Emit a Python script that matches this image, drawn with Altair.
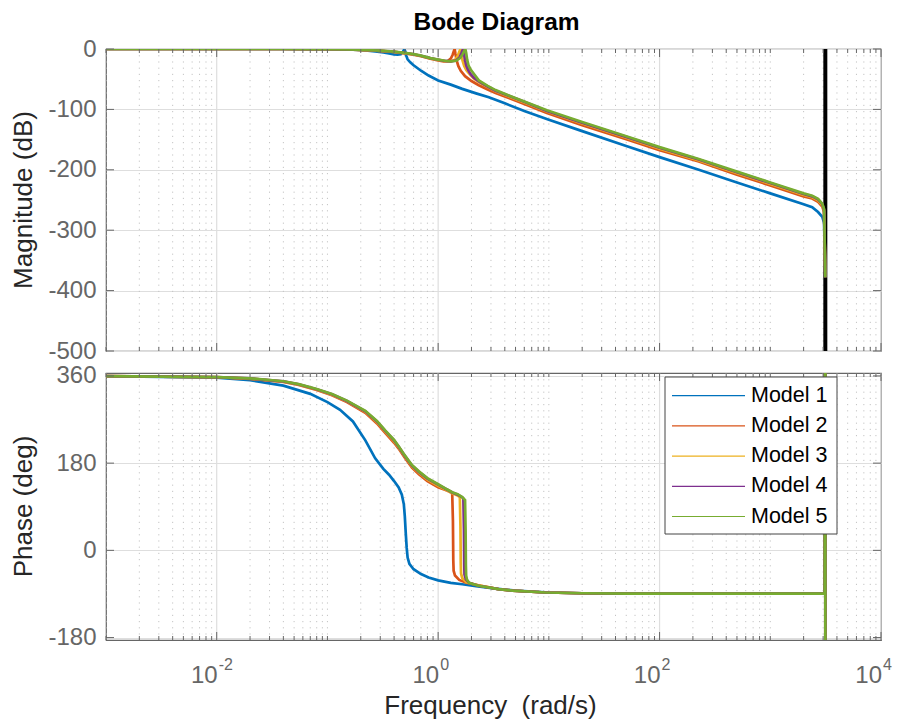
import altair as alt
import pandas as pd

model_names = ["Model 1", "Model 2", "Model 3", "Model 4", "Model 5"]
model_colors = ["#0072BD", "#D95319", "#EDB120", "#7E2F8E", "#77AC30"]

# ---------------- magnitude (dB) ----------------
m1_mag_freq = [0.001, 0.01, 0.04, 0.07, 0.1, 0.13, 0.17, 0.22, 0.27, 0.32, 0.36, 0.4, 0.43, 0.46, 0.48,
               0.495, 0.505, 0.515, 0.53, 0.56, 0.6, 0.7, 0.82, 1.0, 1.3, 1.65, 2.2, 2.87, 4, 6,
               10, 20, 50, 100, 226, 500, 1000, 2000, 2390, 2700, 2950, 3060, 3141.59]
m1_mag = [0, 0, 0, -0.1, -0.3, -0.6, -1.2, -2.3, -3.8, -5.6, -7.2, -8.8, -9.4, -8.5, -5,
          -0.5, -4, -11, -17, -22, -27, -36, -44, -52, -59, -66, -73.5, -80, -90, -102.5,
          -117, -136, -160.5, -179, -200, -221, -239, -257, -262, -270, -278, -288, -378]

m2_mag_freq = [0.001, 0.01, 0.04, 0.07, 0.1, 0.15, 0.22, 0.3, 0.4, 0.5, 0.6, 0.7, 0.85, 1.0, 1.12,
               1.22, 1.3, 1.35, 1.39, 1.41, 1.43, 1.47, 1.52, 1.6, 1.75, 2.0, 2.33, 2.8, 3.3, 4.35,
               6, 9.6, 20, 50, 100, 226, 500, 1000, 2000, 2390, 2700, 2950, 3060, 3141.59]
m2_mag = [0, 0, 0, -0.1, -0.3, -0.8, -1.8, -3.2, -5, -7.2, -9.5, -12, -16, -19, -20.5,
          -20, -16, -10, -3, 0, -7, -19, -28, -36, -45, -53, -60, -67, -73, -81,
          -91, -106, -126, -149.5, -167.5, -186.3, -208, -226, -244, -247.5, -253, -261, -270, -378]

m3_mag_freq = [0.001, 0.01, 0.04, 0.07, 0.1, 0.15, 0.22, 0.3, 0.4, 0.5, 0.6, 0.7, 0.85, 1.0, 1.15,
               1.3, 1.42, 1.5, 1.55, 1.59, 1.62, 1.66, 1.72, 1.8, 1.95, 2.1, 2.33, 2.8, 3.3, 4.35,
               6, 9.6, 20, 50, 100, 226, 500, 1000, 2000, 2390, 2700, 2950, 3060, 3141.59]
m3_mag = [0, 0, 0, -0.1, -0.3, -0.7, -1.7, -3, -4.8, -6.8, -9, -11.5, -15.5, -18, -20,
          -20.5, -18, -12, -5, 0, -7, -19, -28, -35, -43, -49, -55, -63, -70, -78.5,
          -88.5, -103.5, -123.5, -147, -165, -184.5, -205.5, -223.5, -241.5, -245.5, -250.5, -258.5, -267.5, -378]

m4_mag_freq = [0.001, 0.01, 0.04, 0.07, 0.1, 0.15, 0.22, 0.3, 0.4, 0.5, 0.6, 0.7, 0.85, 1.0, 1.15,
               1.3, 1.45, 1.56, 1.63, 1.68, 1.71, 1.75, 1.8, 1.86, 1.95, 2.1, 2.33, 2.8, 3.3, 4.35,
               6, 9.6, 20, 50, 100, 226, 500, 1000, 2000, 2390, 2700, 2950, 3060, 3141.59]
m4_mag = [0, 0, 0, -0.1, -0.3, -0.7, -1.6, -2.9, -4.6, -6.6, -8.7, -11.2, -15.2, -17.8, -19.8,
          -20.5, -19, -14, -6, 0, -7, -19, -28, -34, -41, -47.5, -53.5, -62, -69, -77.5,
          -87.5, -102.5, -122, -145.5, -163.5, -183, -204, -222, -240, -244, -249, -257, -266, -378]

m5_mag_freq = [0.001, 0.01, 0.04, 0.07, 0.1, 0.15, 0.22, 0.3, 0.4, 0.5, 0.6, 0.7, 0.85, 1.0, 1.15,
               1.3, 1.45, 1.58, 1.66, 1.72, 1.76, 1.79, 1.83, 1.88, 1.95, 2.1, 2.33, 2.8, 3.3, 4.35,
               6, 9.6, 20, 50, 100, 226, 500, 1000, 2000, 2390, 2700, 2950, 3060, 3141.59]
m5_mag = [0, 0, 0, -0.1, -0.3, -0.7, -1.6, -2.8, -4.5, -6.5, -8.5, -11, -15, -17.5, -19.5,
          -20.5, -19.5, -15, -9, -3, 0, -6, -18, -27, -33, -41, -52, -61, -68, -77,
          -87, -101.5, -121, -144.5, -162.5, -182, -203, -221, -239, -243, -248, -256, -265, -378]

# ---------------- phase (deg) ----------------
m1_ph_freq = [0.001, 0.01, 0.02, 0.04, 0.07, 0.1, 0.13, 0.17, 0.22, 0.27, 0.32, 0.36, 0.4, 0.44, 0.47,
              0.49, 0.5, 0.51, 0.52, 0.53, 0.55, 0.6, 0.7, 0.82, 1.0, 1.3, 1.65, 2.2, 3.3, 5,
              10, 20, 50, 200, 3100, 3141.59, 3141.59]
m1_phase = [359.3, 356.5, 351, 340, 323, 306, 290, 266, 227, 190, 168, 156, 143, 130, 115,
            95, 70, 35, 5, -15, -28, -39, -49, -56, -62, -67, -70, -74, -79, -83,
            -87, -88.5, -89.2, -89.5, -89.5, 900, -900]

m2_ph_freq = [0.001, 0.01, 0.02, 0.04, 0.055, 0.08, 0.11, 0.15, 0.22, 0.28, 0.334, 0.4, 0.44, 0.5, 0.58,
              0.67, 0.8, 1.0, 1.15, 1.28, 1.34, 1.36, 1.37, 1.38, 1.42, 1.55, 1.8, 2.3, 3.5, 4.7,
              9.3, 20, 50, 200, 3100, 3141.59, 3141.59]
m2_phase = [359.5, 357.2, 354, 347.5, 341.5, 331, 320, 306, 284, 262, 242, 222, 210, 191, 171,
            157, 143, 130, 125, 121, 117, 60, -20, -42, -52, -61, -67, -72, -80, -83,
            -87, -88.5, -89.2, -89.5, -89.5, 900, -900]

m3_ph_freq = [0.001, 0.01, 0.02, 0.04, 0.055, 0.08, 0.11, 0.15, 0.22, 0.28, 0.334, 0.4, 0.44, 0.5, 0.58,
              0.67, 0.8, 1.0, 1.2, 1.34, 1.5, 1.57, 1.59, 1.6, 1.61, 1.65, 1.8, 2.3, 3.5, 4.7,
              9.3, 20, 50, 200, 3100, 3141.59, 3141.59]
m3_phase = [359.5, 357.4, 354.5, 348.3, 342.3, 332, 321.3, 307.5, 286, 264.5, 244.5, 225, 212.5, 193.5, 173.5,
            160, 146, 133, 124, 118, 113, 110, 50, -25, -48, -57, -66, -72, -80, -83,
            -87, -88.5, -89.2, -89.5, -89.5, 900, -900]

m4_ph_freq = [0.001, 0.01, 0.02, 0.04, 0.055, 0.08, 0.11, 0.15, 0.22, 0.28, 0.334, 0.4, 0.44, 0.5, 0.58,
              0.67, 0.8, 1.0, 1.2, 1.34, 1.5, 1.65, 1.69, 1.71, 1.72, 1.73, 1.78, 1.9, 2.3, 3.5,
              4.7, 9.3, 20, 50, 200, 3100, 3141.59, 3141.59]
m4_phase = [359.6, 357.5, 354.8, 348.7, 342.7, 332.5, 322, 308.3, 287, 266, 246, 227, 214, 195, 175,
            162, 148, 135.5, 125.5, 119.5, 115, 109.5, 107, 45, -28, -50, -60, -67, -73, -80,
            -83, -87, -88.5, -89.2, -89.5, -89.5, 900, -900]

m5_ph_freq = [0.001, 0.01, 0.02, 0.04, 0.055, 0.08, 0.11, 0.15, 0.22, 0.28, 0.334, 0.4, 0.44, 0.5, 0.58,
              0.67, 0.8, 1.0, 1.2, 1.34, 1.5, 1.65, 1.75, 1.77, 1.78, 1.79, 1.82, 1.9, 2.3, 3.5,
              4.7, 9.3, 20, 50, 200, 3100, 3141.59, 3141.59]
m5_phase = [359.6, 357.5, 355, 349, 343, 333, 322.6, 309, 288, 267, 247, 228, 215, 196, 176,
            163, 149, 136.5, 126, 120, 116, 110, 104, 40, -30, -52, -60, -67, -73, -80,
            -83, -87, -88.5, -89.2, -89.5, -89.5, 900, -900]

nyquist_freq = [3141.59]
mag_tick_values = [0, -100, -200, -300, -400, -500]
phase_tick_values = [360, 180, 0, -180]
label_freqs = [1e-2, 1e0, 1e2, 1e4]
label_exponents = ["-2", "0", "2", "4"]
decade_exponents = [-3, -2, -1, 0, 1, 2, 3]
minor_multipliers = [1, 2, 3, 4, 5, 6, 7, 8, 9]

# ---------------- tables ----------------
mag_sets = [(m1_mag_freq, m1_mag), (m2_mag_freq, m2_mag), (m3_mag_freq, m3_mag),
            (m4_mag_freq, m4_mag), (m5_mag_freq, m5_mag)]
ph_sets = [(m1_ph_freq, m1_phase), (m2_ph_freq, m2_phase), (m3_ph_freq, m3_phase),
           (m4_ph_freq, m4_phase), (m5_ph_freq, m5_phase)]


def long_table(sets):
    rows = []
    for name, (fs, vs) in zip(model_names, sets):
        assert len(fs) == len(vs), name
        for i, (f, v) in enumerate(zip(fs, vs)):
            rows.append({"model": name, "freq": f, "value": v, "idx": i})
    return pd.DataFrame(rows)


mag_df = long_table(mag_sets)
ph_df = long_table(ph_sets)

all_ticks = [m * 10.0 ** e for e in decade_exponents for m in minor_multipliers] + [1e4]
minor_df = pd.DataFrame({"f": [f for f in all_ticks
                               if not any(abs(f - L) / L < 1e-9 for L in label_freqs)]})
major_df = pd.DataFrame({"f": label_freqs})
nyq_df = pd.DataFrame({"f": nyquist_freq})
xlab_df = pd.DataFrame({"f": label_freqs, "base": ["10"] * 4, "exp": label_exponents})
legend_df = pd.DataFrame({"model": model_names, "row": list(range(len(model_names)))})
box_df = pd.DataFrame({"k": [0]})

W, H1, H2 = 775, 302, 267
AX = "#666666"
GRID = "#dedede"
MINOR = "#c4c4c4"
FONT = "Liberation Sans"
TICK_FS = 24
TITLE_FS = 26

xs = alt.Scale(type="log", domain=[1e-3, 1e4], nice=False)
cscale = alt.Scale(domain=model_names, range=model_colors)


def X(field):
    return alt.X(field, type="quantitative", scale=xs, axis=None)


def frame_layers(H, yscale, yvals):
    ytick_df = pd.DataFrame({"v": yvals})
    minor_grid = alt.Chart(minor_df).mark_rule(color=MINOR, strokeWidth=1, strokeDash=[1.2, 5]).encode(
        x=X("f"), y=alt.value(0), y2=alt.value(H))
    major_grid = alt.Chart(major_df).mark_rule(color=GRID, strokeWidth=1.2).encode(
        x=X("f"), y=alt.value(0), y2=alt.value(H))
    t_top_minor = alt.Chart(minor_df).mark_rule(color=AX, strokeWidth=1).encode(
        x=X("f"), y=alt.value(0), y2=alt.value(4))
    t_bot_minor = alt.Chart(minor_df).mark_rule(color=AX, strokeWidth=1).encode(
        x=X("f"), y=alt.value(H - 4), y2=alt.value(H))
    t_top_major = alt.Chart(major_df).mark_rule(color=AX, strokeWidth=1).encode(
        x=X("f"), y=alt.value(0), y2=alt.value(8))
    t_bot_major = alt.Chart(major_df).mark_rule(color=AX, strokeWidth=1).encode(
        x=X("f"), y=alt.value(H - 8), y2=alt.value(H))
    t_left = alt.Chart(ytick_df).mark_rule(color=AX, strokeWidth=1).encode(
        y=alt.Y("v:Q", scale=yscale, axis=None), x=alt.value(0), x2=alt.value(8))
    t_right = alt.Chart(ytick_df).mark_rule(color=AX, strokeWidth=1).encode(
        y=alt.Y("v:Q", scale=yscale, axis=None), x=alt.value(W - 8), x2=alt.value(W))
    back = [minor_grid, major_grid]
    front = [t_top_minor, t_bot_minor, t_top_major, t_bot_major, t_left, t_right]
    return back, front


def yaxis(vals):
    return alt.Axis(values=vals, grid=True, gridColor=GRID, gridWidth=1.2, ticks=False, domain=False,
                    labelFontSize=TICK_FS, labelColor=AX, labelPadding=10, labelFont=FONT,
                    labelExpr="'' + datum.value",
                    labelFlush=False, labelOverlap=False, title=None)


# ---------- magnitude panel ----------
mag_scale = alt.Scale(domain=[-500, 0], nice=False, zero=False)
back1, front1 = frame_layers(H1, mag_scale, mag_tick_values)
nyq_rule = alt.Chart(nyq_df).mark_rule(color="black", strokeWidth=4).encode(
    x=X("f"), y=alt.value(0), y2=alt.value(H1))
mag_lines = alt.Chart(mag_df).mark_line(strokeWidth=2.7, clip=True).encode(
    x=X("freq"),
    y=alt.Y("value:Q", scale=mag_scale, axis=yaxis(mag_tick_values)),
    color=alt.Color("model:N", scale=cscale, legend=None),
    order="idx:Q")
mag_title = alt.Chart(box_df).mark_text(angle=270, align="center", baseline="alphabetic",
                                        fontSize=TITLE_FS, color="#262626", font=FONT).encode(
    x=alt.value(-74), y=alt.value(H1 / 2), text=alt.value("Magnitude (dB)"))
main_title = alt.Chart(box_df).mark_text(align="center", baseline="alphabetic", fontSize=24.5,
                                         fontWeight="bold", color="black", font=FONT).encode(
    x=alt.value(W / 2 + 3), y=alt.value(-19), text=alt.value("Bode Diagram"))
top = alt.layer(*back1, nyq_rule, mag_lines, *front1, mag_title, main_title).resolve_scale(
    y="independent").properties(width=W, height=H1)

# ---------- phase panel ----------
ph_scale = alt.Scale(domain=[-185, 366], nice=False, zero=False)
back2, front2 = frame_layers(H2, ph_scale, phase_tick_values)
ph_lines = alt.Chart(ph_df).mark_line(strokeWidth=2.7, clip=True).encode(
    x=X("freq"),
    y=alt.Y("value:Q", scale=ph_scale, axis=yaxis(phase_tick_values)),
    color=alt.Color("model:N", scale=cscale, legend=None),
    order="idx:Q")
ph_title = alt.Chart(box_df).mark_text(angle=270, align="center", baseline="alphabetic",
                                       fontSize=TITLE_FS, color="#262626", font=FONT).encode(
    x=alt.value(-74), y=alt.value(H2 / 2), text=alt.value("Phase (deg)"))
x_base = alt.Chart(xlab_df).mark_text(align="right", baseline="alphabetic", fontSize=TICK_FS,
                                      color=AX, font=FONT, dx=1).encode(
    x=X("f"), y=alt.value(H2 + 43), text="base:N")
x_exp = alt.Chart(xlab_df).mark_text(align="left", baseline="alphabetic", fontSize=16,
                                     color=AX, font=FONT, dx=2, dy=-13).encode(
    x=X("f"), y=alt.value(H2 + 43), text="exp:N")
x_title = alt.Chart(box_df).mark_text(align="center", baseline="alphabetic", fontSize=TITLE_FS,
                                      color="#262626", font=FONT).encode(
    x=alt.value(W / 2 - 3), y=alt.value(H2 + 74), text=alt.value("Frequency\u00a0\u00a0(rad/s)"))

leg_box = alt.Chart(box_df).mark_rect(fill="white", stroke="#444444", strokeWidth=1).encode(
    x=alt.value(559), x2=alt.value(731), y=alt.value(4), y2=alt.value(161))
leg_lines = alt.Chart(legend_df).transform_calculate(ly="22.7 + 30.2 * datum.row").mark_rule(
    strokeWidth=1.2).encode(
    x=alt.value(566), x2=alt.value(639),
    y=alt.Y("ly:Q", scale=None, axis=None),
    color=alt.Color("model:N", scale=cscale, legend=None))
leg_text = alt.Chart(legend_df).transform_calculate(ly="22.7 + 30.2 * datum.row").mark_text(
    align="left", baseline="middle", fontSize=21.5, color="black", font=FONT).encode(
    x=alt.value(645), y=alt.Y("ly:Q", scale=None, axis=None), text="model:N")

bottom = alt.layer(*back2, ph_lines, *front2, leg_box, leg_lines, leg_text,
                   ph_title, x_base, x_exp, x_title).resolve_scale(y="independent").properties(
    width=W, height=H2)

chart = alt.vconcat(top, bottom, spacing=22, bounds="flush").properties(
    padding={"left": 10, "top": 9, "right": 0, "bottom": 0}
).configure(font=FONT).configure_view(stroke=AX, strokeWidth=1.2)

chart.save("out.html", embed_options={"renderer": "svg", "actions": False})
